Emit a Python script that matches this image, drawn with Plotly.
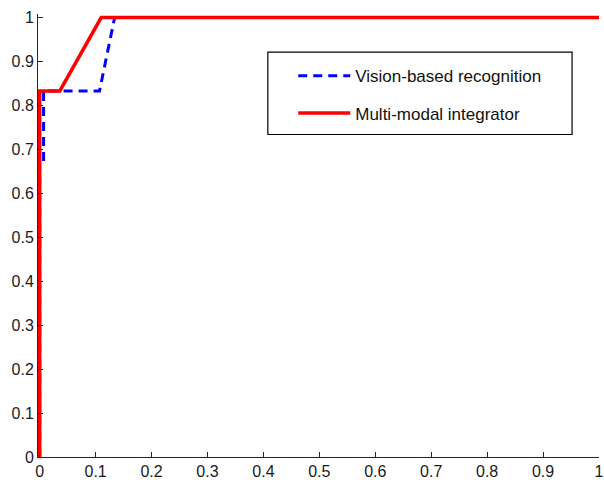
import plotly.graph_objects as go

# Data (ROC-style curves)
vision_fpr = [0.0, 0.0, 0.007, 0.007, 0.107, 0.134, 1.0]
vision_tpr = [0.0, 0.667, 0.667, 0.833, 0.833, 1.0, 1.0]

multi_fpr = [0.0, 0.0, 0.036, 0.110, 1.0]
multi_tpr = [0.0, 0.833, 0.833, 1.0, 1.0]

tick_vals = [0, 0.1, 0.2, 0.3, 0.4, 0.5, 0.6, 0.7, 0.8, 0.9, 1]
tick_text = ["0", "0.1", "0.2", "0.3", "0.4", "0.5", "0.6", "0.7", "0.8", "0.9", "1"]

fig = go.Figure()
fig.add_trace(go.Scatter(
    x=vision_fpr, y=vision_tpr, mode="lines", name="Vision-based recognition",
    line=dict(color="#0000FF", width=3, dash="9px,6px"), legendgroup="a"))
fig.add_trace(go.Scatter(
    x=multi_fpr, y=multi_tpr, mode="lines", name="Multi-modal integrator",
    line=dict(color="#FF0000", width=3.5), legendgroup="b"))

axis_common = dict(
    tickvals=tick_vals, ticktext=tick_text, ticks="inside", ticklen=5,
    tickcolor="#262626", showline=True, linecolor="#262626", linewidth=1,
    showgrid=False, zeroline=False, automargin=False,
    tickfont=dict(family="Liberation Sans, Arial", size=16, color="#1a1a1a"),
)

fig.update_layout(
    width=604, height=480,
    margin=dict(l=38.3, r=5, t=13.5, b=23),
    paper_bgcolor="white", plot_bgcolor="white",
    xaxis=dict(range=[-0.003, 1.0], **axis_common),
    yaxis=dict(range=[0, 1.008], **axis_common),
    legend=dict(
        x=0.455, y=0.9, xanchor="left", yanchor="top",
        bgcolor="rgba(0,0,0,0)", borderwidth=0,
        font=dict(family="Liberation Sans, Arial", size=17, color="#111111"),
        tracegroupgap=12, itemwidth=52,
    ),
    shapes=[dict(type="rect", xref="paper", yref="paper",
                 x0=0.4097, x1=0.952, y0=0.728, y1=0.914,
                 line=dict(color="black", width=1.2), fillcolor="rgba(0,0,0,0)")],
)

fig.write_html("out.html")
